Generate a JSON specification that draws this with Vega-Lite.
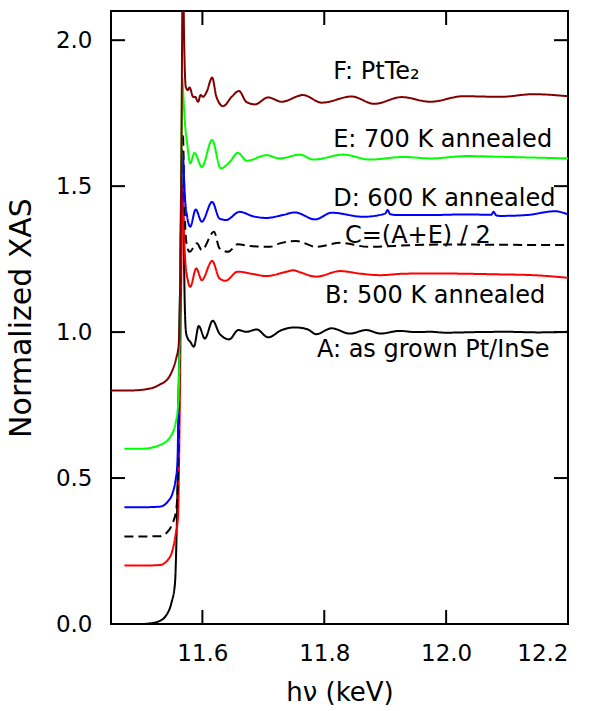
{
  "$schema": "https://vega.github.io/schema/vega-lite/v6.json",
  "width": 457,
  "height": 613,
  "autosize": {"type": "none"},
  "padding": {"left": 111, "top": 11, "right": 30, "bottom": 87},
  "background": "white",
  "config": {
    "view": {"stroke": "black", "strokeWidth": 2},
    "font": "DejaVu Sans",
    "axis": {
      "domain": false, "grid": false, "ticks": false,
      "labelFont": "DejaVu Sans", "labelFontSize": 23, "labelColor": "black",
      "titleFont": "DejaVu Sans", "titleFontSize": 26, "titleFontWeight": "normal", "titleColor": "black"
    }
  },
  "datasets": {
    "curves": [
      {"s":"A","x":11.472,"y":0.0},{"s":"A","x":11.5,"y":0.0},{"s":"A","x":11.513,"y":0.002},{"s":"A","x":11.527,"y":0.008},{"s":"A","x":11.541,"y":0.031},{"s":"A","x":11.549,"y":0.071},{"s":"A","x":11.555,"y":0.139},{"s":"A","x":11.557,"y":0.253},{"s":"A","x":11.559,"y":0.45},{"s":"A","x":11.561,"y":0.75},{"s":"A","x":11.563,"y":1.05},{"s":"A","x":11.565,"y":1.35},{"s":"A","x":11.567,"y":1.5},{"s":"A","x":11.569,"y":1.35},{"s":"A","x":11.571,"y":1.1},{"s":"A","x":11.573,"y":1.0},{"s":"A","x":11.576,"y":0.978},{"s":"A","x":11.58,"y":0.967},{"s":"A","x":11.586,"y":0.95},{"s":"A","x":11.594,"y":1.021},{"s":"A","x":11.604,"y":0.978},{"s":"A","x":11.617,"y":1.039},{"s":"A","x":11.628,"y":0.995},{"s":"A","x":11.644,"y":0.975},{"s":"A","x":11.659,"y":1.007},{"s":"A","x":11.672,"y":1.001},{"s":"A","x":11.689,"y":1.009},{"s":"A","x":11.708,"y":0.982},{"s":"A","x":11.73,"y":1.007},{"s":"A","x":11.752,"y":1.016},{"s":"A","x":11.772,"y":1.01},{"s":"A","x":11.787,"y":0.993},{"s":"A","x":11.812,"y":1.013},{"s":"A","x":11.842,"y":0.995},{"s":"A","x":11.869,"y":1.007},{"s":"A","x":11.892,"y":0.995},{"s":"A","x":11.924,"y":1.004},{"s":"A","x":11.95,"y":1.0},{"s":"A","x":11.974,"y":1.001},{"s":"A","x":12.0,"y":0.998},{"s":"A","x":12.05,"y":1.0},{"s":"A","x":12.1,"y":1.001},{"s":"A","x":12.15,"y":0.999},{"s":"A","x":12.2,"y":1.001},
      {"s":"B","x":11.472,"y":0.2},{"s":"B","x":11.5,"y":0.2},{"s":"B","x":11.53,"y":0.202},{"s":"B","x":11.543,"y":0.219},{"s":"B","x":11.551,"y":0.253},{"s":"B","x":11.556,"y":0.305},{"s":"B","x":11.56,"y":0.367},{"s":"B","x":11.562,"y":0.6},{"s":"B","x":11.564,"y":0.95},{"s":"B","x":11.566,"y":1.3},{"s":"B","x":11.568,"y":1.5},{"s":"B","x":11.57,"y":1.33},{"s":"B","x":11.572,"y":1.24},{"s":"B","x":11.576,"y":1.178},{"s":"B","x":11.58,"y":1.155},{"s":"B","x":11.59,"y":1.218},{"s":"B","x":11.599,"y":1.178},{"s":"B","x":11.616,"y":1.244},{"s":"B","x":11.628,"y":1.184},{"s":"B","x":11.638,"y":1.176},{"s":"B","x":11.658,"y":1.207},{"s":"B","x":11.683,"y":1.199},{"s":"B","x":11.705,"y":1.192},{"s":"B","x":11.738,"y":1.207},{"s":"B","x":11.749,"y":1.212},{"s":"B","x":11.76,"y":1.205},{"s":"B","x":11.787,"y":1.19},{"s":"B","x":11.826,"y":1.209},{"s":"B","x":11.86,"y":1.2},{"s":"B","x":11.892,"y":1.195},{"s":"B","x":11.93,"y":1.2},{"s":"B","x":11.979,"y":1.201},{"s":"B","x":12.03,"y":1.2},{"s":"B","x":12.08,"y":1.198},{"s":"B","x":12.143,"y":1.195},{"s":"B","x":12.2,"y":1.186},
      {"s":"C","x":11.472,"y":0.3},{"s":"C","x":11.5,"y":0.3},{"s":"C","x":11.53,"y":0.301},{"s":"C","x":11.543,"y":0.316},{"s":"C","x":11.551,"y":0.345},{"s":"C","x":11.557,"y":0.39},{"s":"C","x":11.56,"y":0.5},{"s":"C","x":11.562,"y":0.8},{"s":"C","x":11.564,"y":1.2},{"s":"C","x":11.566,"y":1.55},{"s":"C","x":11.568,"y":1.68},{"s":"C","x":11.57,"y":1.5},{"s":"C","x":11.572,"y":1.35},{"s":"C","x":11.574,"y":1.304},{"s":"C","x":11.579,"y":1.275},{"s":"C","x":11.591,"y":1.304},{"s":"C","x":11.599,"y":1.281},{"s":"C","x":11.619,"y":1.344},{"s":"C","x":11.628,"y":1.287},{"s":"C","x":11.642,"y":1.275},{"s":"C","x":11.658,"y":1.301},{"s":"C","x":11.678,"y":1.295},{"s":"C","x":11.711,"y":1.292},{"s":"C","x":11.727,"y":1.304},{"s":"C","x":11.754,"y":1.312},{"s":"C","x":11.787,"y":1.292},{"s":"C","x":11.826,"y":1.306},{"s":"C","x":11.872,"y":1.292},{"s":"C","x":11.946,"y":1.298},{"s":"C","x":12.0,"y":1.3},{"s":"C","x":12.1,"y":1.299},{"s":"C","x":12.2,"y":1.298},
      {"s":"D","x":11.472,"y":0.4},{"s":"D","x":11.5,"y":0.4},{"s":"D","x":11.53,"y":0.402},{"s":"D","x":11.543,"y":0.419},{"s":"D","x":11.551,"y":0.448},{"s":"D","x":11.556,"y":0.493},{"s":"D","x":11.559,"y":0.55},{"s":"D","x":11.561,"y":0.8},{"s":"D","x":11.563,"y":1.1},{"s":"D","x":11.565,"y":1.4},{"s":"D","x":11.567,"y":1.6},{"s":"D","x":11.568,"y":1.612},{"s":"D","x":11.57,"y":1.52},{"s":"D","x":11.571,"y":1.475},{"s":"D","x":11.575,"y":1.395},{"s":"D","x":11.58,"y":1.361},{"s":"D","x":11.589,"y":1.42},{"s":"D","x":11.599,"y":1.378},{"s":"D","x":11.616,"y":1.446},{"s":"D","x":11.628,"y":1.389},{"s":"D","x":11.639,"y":1.384},{"s":"D","x":11.661,"y":1.412},{"s":"D","x":11.683,"y":1.397},{"s":"D","x":11.705,"y":1.391},{"s":"D","x":11.732,"y":1.401},{"s":"D","x":11.752,"y":1.41},{"s":"D","x":11.785,"y":1.386},{"s":"D","x":11.812,"y":1.409},{"s":"D","x":11.864,"y":1.395},{"s":"D","x":11.9,"y":1.406},{"s":"D","x":11.904,"y":1.418},{"s":"D","x":11.908,"y":1.404},{"s":"D","x":11.919,"y":1.401},{"s":"D","x":11.974,"y":1.401},{"s":"D","x":12.03,"y":1.403},{"s":"D","x":12.074,"y":1.402},{"s":"D","x":12.078,"y":1.412},{"s":"D","x":12.082,"y":1.4},{"s":"D","x":12.089,"y":1.398},{"s":"D","x":12.132,"y":1.401},{"s":"D","x":12.179,"y":1.414},{"s":"D","x":12.2,"y":1.403},
      {"s":"E","x":11.472,"y":0.6},{"s":"E","x":11.5,"y":0.6},{"s":"E","x":11.53,"y":0.613},{"s":"E","x":11.546,"y":0.637},{"s":"E","x":11.556,"y":0.688},{"s":"E","x":11.561,"y":0.777},{"s":"E","x":11.563,"y":1.1},{"s":"E","x":11.565,"y":1.5},{"s":"E","x":11.567,"y":1.87},{"s":"E","x":11.569,"y":1.8},{"s":"E","x":11.571,"y":1.726},{"s":"E","x":11.575,"y":1.646},{"s":"E","x":11.58,"y":1.578},{"s":"E","x":11.587,"y":1.614},{"s":"E","x":11.599,"y":1.566},{"s":"E","x":11.616,"y":1.658},{"s":"E","x":11.63,"y":1.561},{"s":"E","x":11.645,"y":1.583},{"s":"E","x":11.658,"y":1.614},{"s":"E","x":11.673,"y":1.587},{"s":"E","x":11.705,"y":1.606},{"s":"E","x":11.727,"y":1.595},{"s":"E","x":11.76,"y":1.608},{"s":"E","x":11.782,"y":1.591},{"s":"E","x":11.831,"y":1.608},{"s":"E","x":11.875,"y":1.591},{"s":"E","x":11.93,"y":1.6},{"s":"E","x":11.974,"y":1.595},{"s":"E","x":12.034,"y":1.603},{"s":"E","x":12.1,"y":1.6},{"s":"E","x":12.2,"y":1.595},
      {"s":"F","x":11.45,"y":0.8},{"s":"F","x":11.48,"y":0.8},{"s":"F","x":11.51,"y":0.805},{"s":"F","x":11.53,"y":0.82},{"s":"F","x":11.545,"y":0.845},{"s":"F","x":11.551,"y":0.87},{"s":"F","x":11.557,"y":0.91},{"s":"F","x":11.561,"y":0.955},{"s":"F","x":11.563,"y":1.1},{"s":"F","x":11.5655,"y":1.6},{"s":"F","x":11.568,"y":2.3},{"s":"F","x":11.57,"y":2.0},{"s":"F","x":11.5727,"y":1.84},{"s":"F","x":11.576,"y":1.829},{"s":"F","x":11.579,"y":1.838},{"s":"F","x":11.585,"y":1.805},{"s":"F","x":11.588,"y":1.806},{"s":"F","x":11.593,"y":1.789},{"s":"F","x":11.597,"y":1.812},{"s":"F","x":11.601,"y":1.806},{"s":"F","x":11.607,"y":1.823},{"s":"F","x":11.616,"y":1.872},{"s":"F","x":11.623,"y":1.806},{"s":"F","x":11.634,"y":1.774},{"s":"F","x":11.648,"y":1.806},{"s":"F","x":11.66,"y":1.826},{"s":"F","x":11.672,"y":1.789},{"s":"F","x":11.686,"y":1.78},{"s":"F","x":11.708,"y":1.804},{"s":"F","x":11.73,"y":1.789},{"s":"F","x":11.765,"y":1.812},{"s":"F","x":11.796,"y":1.786},{"s":"F","x":11.845,"y":1.807},{"s":"F","x":11.882,"y":1.782},{"s":"F","x":11.927,"y":1.805},{"s":"F","x":11.974,"y":1.789},{"s":"F","x":12.028,"y":1.808},{"s":"F","x":12.089,"y":1.806},{"s":"F","x":12.143,"y":1.815},{"s":"F","x":12.2,"y":1.808}
    ],
    "labels": [
      {"t":"F: PtTe₂","x":11.8146,"y":1.866},
      {"t":"E: 700 K annealed","x":11.8146,"y":1.635},
      {"t":"D: 600 K annealed","x":11.8146,"y":1.432},
      {"t":"C=(A+E) / 2","x":11.8339,"y":1.306},
      {"t":"B: 500 K annealed","x":11.801,"y":1.098},
      {"t":"A: as grown Pt/InSe","x":11.788,"y":0.915}
    ],
    "xticks": [{"v":11.6},{"v":11.8},{"v":12.0},{"v":12.2}],
    "yticks": [{"v":0},{"v":0.5},{"v":1.0},{"v":1.5},{"v":2.0}]
  },
  "layer": [
    {
      "data": {"name": "curves"},
      "mark": {"type": "line", "strokeWidth": 2, "clip": true, "interpolate": "monotone"},
      "encoding": {
        "x": {"field": "x", "type": "quantitative", "scale": {"domain": [11.45, 12.2], "nice": false, "zero": false},
              "axis": {"values": [11.6, 11.8, 12.0, 12.2], "format": ".1f", "title": "hν (keV)", "labelPadding": 18, "titlePadding": 14}},
        "y": {"field": "y", "type": "quantitative", "scale": {"domain": [0, 2.1], "nice": false},
              "axis": {"values": [0, 0.5, 1.0, 1.5, 2.0], "format": ".1f", "title": "Normalized XAS", "titleFontSize": 30, "labelPadding": 19, "titlePadding": 19}},
        "color": {"field": "s", "type": "nominal", "legend": null,
                  "scale": {"domain": ["A","B","C","D","E","F"], "range": ["#000000","#ff0000","#000000","#0000ff","#00ff00","#800000"]}},
        "strokeDash": {"field": "s", "type": "nominal", "legend": null,
                  "scale": {"domain": ["A","B","C","D","E","F"], "range": [[1,0],[1,0],[9,5],[1,0],[1,0],[1,0]]}},
        "order": {"field": "x", "type": "quantitative"}
      }
    },
    {
      "data": {"name": "labels"},
      "mark": {"type": "text", "align": "left", "baseline": "alphabetic", "fontSize": 24, "font": "DejaVu Sans", "color": "black"},
      "encoding": {
        "x": {"field": "x", "type": "quantitative"},
        "y": {"field": "y", "type": "quantitative"},
        "text": {"field": "t"}
      }
    },
    {
      "data": {"name": "xticks"},
      "mark": {"type": "rule", "strokeWidth": 2, "color": "black"},
      "encoding": {"x": {"field": "v", "type": "quantitative"}, "y": {"datum": 0}, "y2": {"datum": 0.048}}
    },
    {
      "data": {"name": "xticks"},
      "mark": {"type": "rule", "strokeWidth": 2, "color": "black"},
      "encoding": {"x": {"field": "v", "type": "quantitative"}, "y": {"datum": 2.1}, "y2": {"datum": 2.052}}
    },
    {
      "data": {"name": "yticks"},
      "mark": {"type": "rule", "strokeWidth": 2, "color": "black"},
      "encoding": {"y": {"field": "v", "type": "quantitative"}, "x": {"datum": 11.45}, "x2": {"datum": 11.473}}
    },
    {
      "data": {"name": "yticks"},
      "mark": {"type": "rule", "strokeWidth": 2, "color": "black"},
      "encoding": {"y": {"field": "v", "type": "quantitative"}, "x": {"datum": 12.2}, "x2": {"datum": 12.177}}
    }
  ]
}
